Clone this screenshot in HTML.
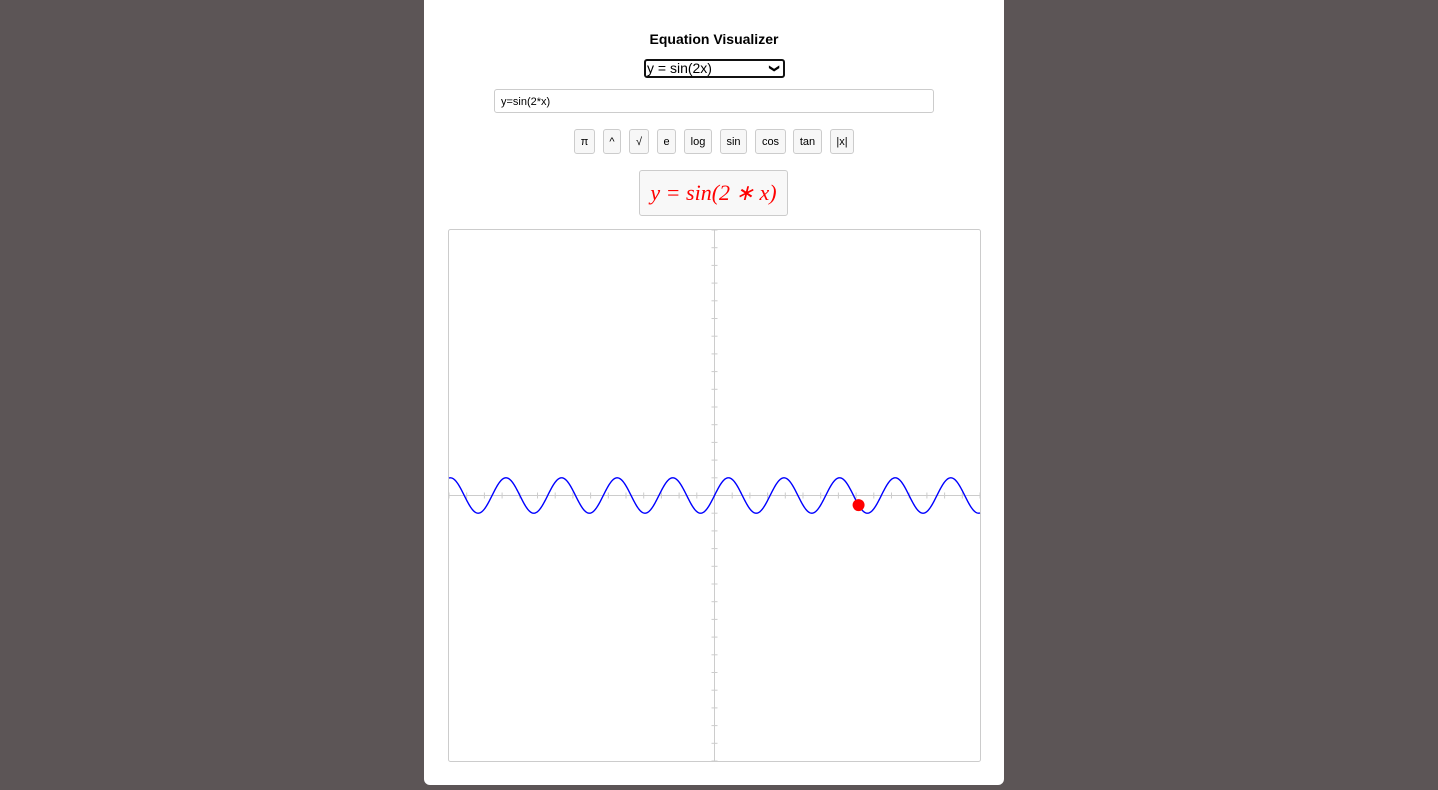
<!DOCTYPE html>
<html><head><meta charset="utf-8">
<style>
html,body{margin:0;padding:0;width:1438px;height:790px;background:#5c5556;overflow:hidden;font-family:"Liberation Sans",Arial,sans-serif;}
#card{position:absolute;left:424px;top:-8px;width:580px;height:793px;background:#fff;border-radius:6px;}
#title{position:absolute;left:424px;top:31px;width:580px;text-align:center;font-weight:bold;font-size:14px;color:#000;}
#sel{position:absolute;left:644px;top:59px;width:136px;height:15px;border:2px solid #111;border-radius:3px;font-size:14px;line-height:15px;padding-left:1px;box-sizing:content-box;}
#sel span.chev{position:absolute;right:5px;top:0;font-size:10px;font-weight:bold;transform:rotate(90deg);}
#inp{position:absolute;left:494px;top:89px;width:440px;height:24px;border:1px solid #ccc;border-radius:3px;font-size:11px;line-height:24px;padding-left:6px;box-sizing:border-box;}
.btn{position:absolute;top:129px;height:25px;border:1px solid #ccc;border-radius:3px;background:#f7f7f7;font-size:11px;line-height:25px;text-align:center;box-sizing:border-box;color:#000;}
#math{position:absolute;left:639px;top:170px;width:149px;height:46px;border:1px solid #ccc;border-radius:3px;background:#f8f8f8;box-sizing:border-box;text-align:center;line-height:44px;font-family:"Liberation Serif",serif;font-style:italic;font-size:22px;color:#f00;}
#plot{position:absolute;left:448px;top:229px;}
</style></head><body>
<div id="card"></div>
<div id="title">Equation Visualizer</div>
<div id="sel">y = sin(2x)<span class="chev">&#10095;</span></div>
<div id="inp">y=sin(2*x)</div>
<div class="btn" style="left:574px;width:21px">π</div>
<div class="btn" style="left:603px;width:18px">^</div>
<div class="btn" style="left:629px;width:20px">√</div>
<div class="btn" style="left:657px;width:19px">e</div>
<div class="btn" style="left:684px;width:28px">log</div>
<div class="btn" style="left:720px;width:27px">sin</div>
<div class="btn" style="left:755px;width:31px">cos</div>
<div class="btn" style="left:793px;width:29px">tan</div>
<div class="btn" style="left:830px;width:24px">|x|</div>
<div id="math">y = sin(2 ∗ x)</div>
<svg id="plot" width="533" height="533"></svg>
<script>
const xDomain=[-15,15];
const yDomain=[-15,15];
const xTicks=[-15,-14,-13,-12,-11,-10,-9,-8,-7,-6,-5,-4,-3,-2,-1,0,1,2,3,4,5,6,7,8,9,10,11,12,13,14,15];
const yTicks=[-15,-14,-13,-12,-11,-10,-9,-8,-7,-6,-5,-4,-3,-2,-1,0,1,2,3,4,5,6,7,8,9,10,11,12,13,14,15];
const freq=[2];
const markerX=[8.14];
const W=531,H=531,OX=1,OY=1;
const sx=v=>OX+(v-xDomain[0])/(xDomain[1]-xDomain[0])*W;
const sy=v=>OY+(yDomain[1]-v)/(yDomain[1]-yDomain[0])*H;
const f=x=>Math.sin(freq[0]*x);
const svg=document.getElementById('plot');
const NS='http://www.w3.org/2000/svg';
function mk(t,a){const e=document.createElementNS(NS,t);for(const k in a)e.setAttribute(k,a[k]);svg.appendChild(e);return e;}
const frame=mk('rect',{x:0.5,y:0.5,width:532,height:532,fill:'#fff',stroke:'#ccc',rx:2});


const xa=mk('line',{x1:sx(xDomain[0]),x2:sx(xDomain[1]),y1:sy(0),y2:sy(0),stroke:'#ccc','stroke-width':1});


const ya=mk('line',{x1:sx(0),x2:sx(0),y1:sy(yDomain[1]),y2:sy(yDomain[0]),stroke:'#ccc','stroke-width':1});


xTicks.forEach(t=>{const l=mk('line',{x1:sx(t),x2:sx(t),y1:sy(0)-3,y2:sy(0)+3,stroke:'#ccc'});

});
yTicks.forEach(t=>{const l=mk('line',{x1:sx(0)-3,x2:sx(0)+3,y1:sy(t),y2:sy(t),stroke:'#ccc'});

});
let d='';
for(let i=0;i<=1200;i++){const x=xDomain[0]+(xDomain[1]-xDomain[0])*i/1200;d+=(i?'L':'M')+sx(x).toFixed(2)+' '+sy(f(x)).toFixed(2);}
const p=mk('path',{d:d,fill:'none',stroke:'#0000ff','stroke-width':1.4});


const c=mk('circle',{cx:sx(markerX[0]),cy:sy(f(markerX[0])),r:6,fill:'#ff0000'});


</script>
</body></html>
